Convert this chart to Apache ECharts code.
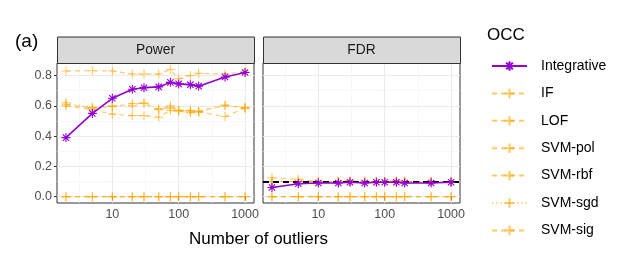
<!DOCTYPE html>
<html><head><meta charset="utf-8">
<script src="https://cdn.jsdelivr.net/npm/echarts@6/dist/echarts.min.js"></script>
<style>html,body{margin:0;padding:0;background:#fff}#c{width:623px;height:255px}</style>
</head><body><div id="c"></div>
<script>
// ---------- data ----------
const nOutliers = [2, 5, 10, 20, 30, 50, 75, 100, 150, 200, 500, 1000];
const methods = ['Integrative', 'IF', 'LOF', 'SVM-pol', 'SVM-rbf', 'SVM-sgd', 'SVM-sig'];
const panels = ['Power', 'FDR'];

const powerIntegrative = [0.39, 0.55, 0.65, 0.71, 0.72, 0.725, 0.755, 0.745, 0.74, 0.73, 0.79, 0.82];
const powerIF          = [0.61, 0.585, 0.595, 0.615, 0.615, 0.575, 0.60, 0.57, 0.565, 0.565, 0.605, 0.585];
const powerLOF         = [0.60, 0.575, 0.545, 0.535, 0.535, 0.525, 0.57, 0.565, 0.555, 0.56, 0.53, 0.585];
const powerSVMpol      = [0, 0, 0, 0, 0, 0, 0, 0, 0, 0, 0, 0];
const powerSVMrbf      = [0.83, 0.832, 0.83, 0.81, 0.81, 0.81, 0.84, 0.78, 0.80, 0.815, 0.81, 0.826];
const powerSVMsgd      = [0.62, 0.59, 0.60, 0.60, 0.62, 0.58, 0.585, 0.57, 0.57, 0.56, 0.60, 0.59];
const powerSVMsig      = [0, 0, 0, 0, 0, 0, 0, 0, 0, 0, 0, 0];

const fdrIntegrative = [0.06, 0.085, 0.09, 0.09, 0.095, 0.09, 0.095, 0.095, 0.095, 0.09, 0.09, 0.095];
const fdrIF          = [0.10, 0.10, 0.095, 0.10, 0.10, 0.095, 0.10, 0.10, 0.10, 0.095, 0.10, 0.10];
const fdrLOF         = [0.10, 0.10, 0.10, 0.10, 0.10, 0.10, 0.10, 0.10, 0.10, 0.10, 0.10, 0.10];
const fdrSVMpol      = [0, 0, 0, 0, 0, 0, 0, 0, 0, 0, 0, 0];
const fdrSVMrbf      = [0.125, 0.115, 0.10, 0.10, 0.105, 0.10, 0.10, 0.10, 0.105, 0.10, 0.10, 0.10];
const fdrSVMsgd      = [0.10, 0.10, 0.10, 0.10, 0.10, 0.10, 0.10, 0.10, 0.10, 0.10, 0.10, 0.10];
const fdrSVMsig      = [0, 0, 0, 0, 0, 0, 0, 0, 0, 0, 0, 0];
const nominalLevel = 0.1;

const xTickValues = [10, 100, 1000];
const xMinorValues = [3.1623, 31.623, 316.23];
const yTickValues = [0, 0.2, 0.4, 0.6, 0.8];
const yMinorValues = [0.1, 0.3, 0.5, 0.7];

// ---------- styling ----------
const FONT = 'Liberation Sans, Arial, sans-serif';
const ORANGE = 'rgba(255,165,0,0.6)';
const PURPLE = '#9400D3';
const PLUS = 'path://M0,5L10,5M5,0L5,10';
const STAR = 'path://M0,5L10,5M5,0L5,10M1.5,1.5L8.5,8.5M1.5,8.5L8.5,1.5';

const powerData = {Integrative: powerIntegrative, IF: powerIF, LOF: powerLOF, 'SVM-pol': powerSVMpol,
  'SVM-rbf': powerSVMrbf, 'SVM-sgd': powerSVMsgd, 'SVM-sig': powerSVMsig};
const fdrData = {Integrative: fdrIntegrative, IF: fdrIF, LOF: fdrLOF, 'SVM-pol': fdrSVMpol,
  'SVM-rbf': fdrSVMrbf, 'SVM-sgd': fdrSVMsgd, 'SVM-sig': fdrSVMsig};

// ggplot-like 5% expansion in log space
const lo = Math.log10(nOutliers[0]), hi = Math.log10(nOutliers[nOutliers.length - 1]);
const xMin = Math.pow(10, lo - 0.05 * (hi - lo));
const xMax = Math.pow(10, hi + 0.05 * (hi - lo));
const yMin = -0.042, yMax = 0.883;

const gridTop = 63, gridH = 140, gridW = 197;
const gridLefts = [57, 263];

const grids = gridLefts.map(l => ({left: l, top: gridTop, width: gridW, height: gridH,
  show: true, backgroundColor: '#fff', borderColor: '#333', borderWidth: 1, z: 0}));

const xAxes = [], yAxes = [];
gridLefts.forEach((l, gi) => {
  xAxes.push({type: 'log', logBase: 10, gridIndex: gi, min: xMin, max: xMax,
    axisLine: {show: false},
    axisTick: {show: true, length: 3, lineStyle: {color: '#333', width: 1}, customValues: xTickValues},
    axisLabel: {show: true, customValues: xTickValues, color: '#4D4D4D', fontSize: 12.5, fontFamily: FONT, margin: 5,
      formatter: v => String(Math.round(v))},
    splitLine: {show: true, lineStyle: {color: '#EBEBEB', width: 1.1}}});
  yAxes.push({type: 'value', gridIndex: gi, min: yMin, max: yMax,
    axisLine: {show: false},
    axisTick: {show: gi === 0, length: 3, lineStyle: {color: '#333', width: 1}, customValues: yTickValues},
    axisLabel: {show: gi === 0, customValues: yTickValues, color: '#4D4D4D', fontSize: 12.5, fontFamily: FONT, margin: 5,
      formatter: v => v.toFixed(1)},
    splitLine: {show: true, lineStyle: {color: '#EBEBEB', width: 1.1}}});
});
gridLefts.forEach((l, gi) => {
  xAxes.push({type: 'log', logBase: 10, gridIndex: gi, min: xMin, max: xMax,
    axisLine: {show: false}, axisLabel: {show: false},
    axisTick: {show: false, customValues: xMinorValues},
    splitLine: {show: true, lineStyle: {color: '#F2F2F2', width: 0.6}}});
  yAxes.push({type: 'value', gridIndex: gi, min: yMin, max: yMax,
    axisLine: {show: false}, axisLabel: {show: false},
    axisTick: {show: false, customValues: yMinorValues},
    splitLine: {show: true, lineStyle: {color: '#F2F2F2', width: 0.6}}});
});

const series = [];
[powerData, fdrData].forEach((dataSet, gi) => {
  methods.slice(1).concat(['Integrative']).forEach(m => {
    const isInt = m === 'Integrative';
    const col = isInt ? PURPLE : ORANGE;
    const s = {
      name: m, type: 'line', xAxisIndex: gi, yAxisIndex: gi,
      data: nOutliers.map((n, i) => [n, dataSet[m][i]]),
      symbol: isInt ? STAR : PLUS, symbolSize: 9,
      showSymbol: true,
      lineStyle: {color: col, width: isInt ? 1.6 : 1.1,
        type: isInt ? 'solid' : (m === 'SVM-sgd' ? [1.2, 3] : [5, 4])},
      itemStyle: {color: col, borderColor: col, borderWidth: 1.1},
      z: isInt ? 5 : 3, animation: false, silent: true
    };
    series.push(s);
  });
  if (gi === 1) {
    series.push({type: 'line', xAxisIndex: 1, yAxisIndex: 1, data: [], silent: true, z: 4,
      markLine: {silent: true, symbol: 'none', label: {show: false},
        lineStyle: {color: '#000', width: 2, type: [6, 4]},
        data: [{yAxis: nominalLevel}]}});
  }
});

const graphic = [];
panels.forEach((p, i) => {
  graphic.push({type: 'rect', left: gridLefts[i], top: 36.5, z: 10,
    shape: {width: gridW, height: 26.5}, style: {fill: '#D9D9D9', stroke: '#333', lineWidth: 1}});
  graphic.push({type: 'text', x: gridLefts[i] + gridW / 2, y: 50, z: 11,
    style: {text: p, fill: '#1A1A1A', font: '13.8px ' + FONT, textAlign: 'center', textVerticalAlign: 'middle'}});
});
graphic.push({type: 'text', x: 15, y: 42, style: {text: '(a)', fill: '#000', font: '19px ' + FONT, textVerticalAlign: 'middle'}});
graphic.push({type: 'text', x: 487, y: 35, style: {text: 'OCC', fill: '#000', font: '17px ' + FONT, textVerticalAlign: 'middle'}});
graphic.push({type: 'text', x: 258.5, y: 239, style: {text: 'Number of outliers', fill: '#000', font: '17px ' + FONT,
  textAlign: 'center', textVerticalAlign: 'middle'}});

const chart = echarts.init(document.getElementById('c'), null, {renderer: 'canvas'});
chart.setOption({
  animation: false,
  backgroundColor: '#fff',
  grid: grids,
  xAxis: xAxes,
  yAxis: yAxes,
  legend: {orient: 'vertical', left: 491, top: 59, padding: 0, itemWidth: 35, itemHeight: 12, itemGap: 13.4,
    data: methods, selectedMode: false,
    textStyle: {fontSize: 14, fontFamily: FONT, color: '#000', padding: [0, 0, 0, 9]}},
  graphic: graphic,
  series: series
});
</script></body></html>
